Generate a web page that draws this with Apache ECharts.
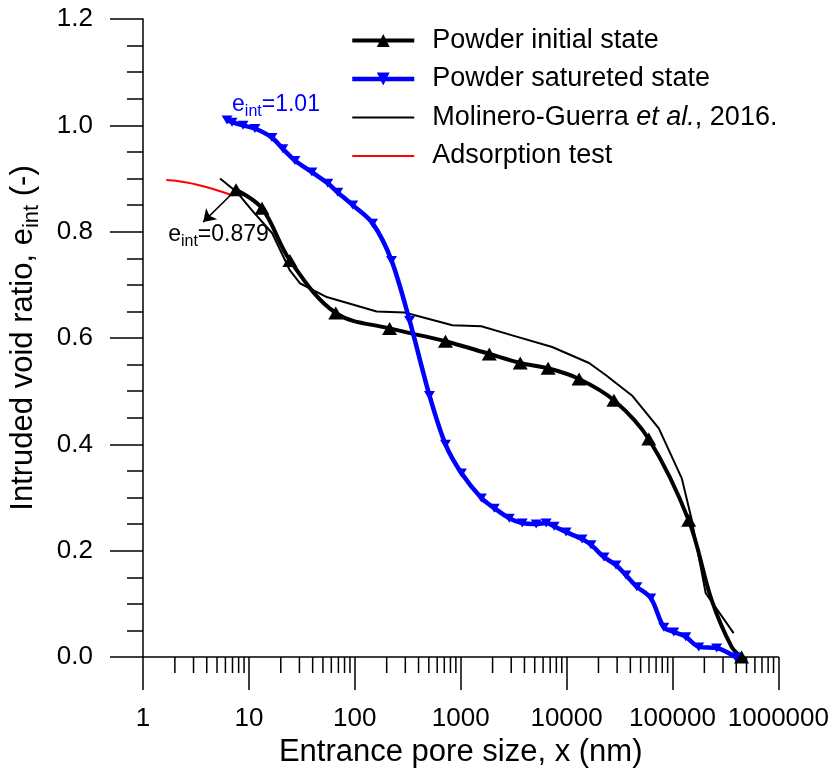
<!DOCTYPE html>
<html>
<head>
<meta charset="utf-8">
<script src="https://cdn.jsdelivr.net/npm/echarts@6/dist/echarts.min.js"></script>
<style>
  html, body { margin: 0; padding: 0; background: #fff; }
  #chart { width: 832px; height: 773px; }
</style>
</head>
<body>
<div id="chart"></div>
<script>
const FONT = '"Liberation Sans", Arial, Helvetica, sans-serif';

// Entrance pore size (nm) / intruded void ratio, powder in initial state (marked points)
const initialSize = [7.56, 13.3, 24.4, 66.1, 213, 718, 1862, 3648, 6693, 13120, 27990, 59700, 142300, 449000];
const initialVoid = [0.879, 0.844, 0.746, 0.647, 0.618, 0.594, 0.570, 0.553, 0.543, 0.523, 0.483, 0.410, 0.257, 0.0];
// unmarked intermediate points of the same curve
const initialExtraSize = [234400, 362000];
const initialExtraVoid = [0.107, 0.019];

// Powder in saturated state
const saturatedSize = [6.22, 6.93, 8.80, 11.4, 16.5, 20.9, 27.2, 39.3, 55.6, 69.0, 95.5, 147, 222, 329, 507, 718,
  1016, 1567, 2076, 2875, 3811, 5164, 6412, 7622, 9886, 13990, 16990, 22530, 29240, 36310, 46090, 62420,
  82790, 102800, 133400, 176900, 261300, 394500];
const saturatedVoid = [1.01, 1.006, 1.000, 0.994, 0.977, 0.956, 0.934, 0.912, 0.891, 0.874, 0.850, 0.816, 0.746, 0.633, 0.492, 0.400,
  0.346, 0.299, 0.280, 0.261, 0.252, 0.250, 0.252, 0.246, 0.235, 0.222, 0.211, 0.188, 0.173, 0.154, 0.132, 0.111,
  0.056, 0.047, 0.038, 0.019, 0.017, 0.0];

// Molinero-Guerra et al., 2016
const molineroSize = [5.34, 7.73, 10.7, 16.6, 24.4, 30.3, 54.3, 161, 295, 836, 1567, 3069, 7311, 16290, 23560, 41400, 74300,
  122400, 152000, 206000, 378000];
const molineroVoid = [0.900, 0.874, 0.840, 0.797, 0.727, 0.703, 0.677, 0.650, 0.648, 0.624, 0.622, 0.605, 0.583, 0.553, 0.530, 0.492, 0.430,
  0.336, 0.258, 0.120, 0.045];

// Adsorption test
const adsorptionSize = [1.66, 2.5, 3.47, 5.0, 7.1];
const adsorptionVoid = [0.897, 0.893, 0.887, 0.878, 0.868];

// Axis ticks
const xDecades = [1, 10, 100, 1000, 10000, 100000, 1000000];
const xMinorSteps = [2, 3, 4, 5, 6, 7, 8, 9];
const yTicks = [0, 0.2, 0.4, 0.6, 0.8, 1.0, 1.2];

// Arrow end for the initial-state annotation
const arrowEnd = [3.7, 0.818];

const pairs = (xs, ys) => xs.map((x, i) => [x, ys[i]]);
const minorTickValues = xDecades.slice(0, -1).flatMap(d => xMinorSteps.map(s => s * d));

// initial-state curve: marked points plus unmarked ones, sorted by pore size
const initialData = pairs(initialSize, initialVoid)
  .concat(pairs(initialExtraSize, initialExtraVoid).map(p => ({ value: p, symbol: 'none' })))
  .sort((a, b) => (a.value || a)[0] - (b.value || b)[0]);

const chart = echarts.init(document.getElementById('chart'), null, { renderer: 'canvas' });

const subLabel = color => ({
  b: { fontSize: 23, fontFamily: FONT, color },
  s: { fontSize: 16, fontFamily: FONT, color, padding: [13, 0, 0, 0] }
});

const option = {
  animation: false,
  backgroundColor: '#fff',
  textStyle: { fontFamily: FONT, color: '#000' },
  grid: { left: 143, right: 52, top: 19, bottom: 116, containLabel: false },
  legend: {
    orient: 'vertical',
    left: 350,
    top: 27,
    padding: 0,
    itemWidth: 62,
    itemHeight: 16,
    itemGap: 11.5,
    textStyle: {
      fontSize: 27, fontFamily: FONT, color: '#000', padding: [0, 0, 0, 13],
      rich: { i: { fontSize: 27, fontFamily: FONT, fontStyle: 'italic' } }
    },
    formatter: name => name.startsWith('Molinero') ? 'Molinero-Guerra {i|et al.}, 2016.' : name,
    data: [
      { name: 'Powder initial state', lineStyle: { width: 4 } },
      { name: 'Powder satureted state', lineStyle: { width: 4.5 } },
      { name: 'Molinero-Guerra et al., 2016.', icon: 'path://M0,0H62V2H0Z' },
      { name: 'Adsorption test', icon: 'path://M0,0H62V2H0Z' }
    ]
  },
  xAxis: {
    type: 'log',
    logBase: 10,
    min: xDecades[0],
    max: xDecades[xDecades.length - 1],
    name: 'Entrance pore size, x (nm)',
    nameLocation: 'middle',
    nameGap: 80,
    nameTextStyle: { fontSize: 31, fontFamily: FONT, color: '#000' },
    axisLine: { lineStyle: { color: '#000', width: 1.5 } },
    axisTick: { show: true, inside: false, length: 33, lineStyle: { color: '#000', width: 1.5 } },
    minorTick: { show: false },
    splitLine: { show: false },
    axisLabel: {
      margin: 49, fontSize: 26, fontFamily: FONT, color: '#000',
      formatter: v => String(Math.round(v))
    }
  },
  yAxis: {
    type: 'value',
    min: yTicks[0],
    max: yTicks[yTicks.length - 1],
    interval: 0.2,
    name: 'Intruded void ratio, e{s|int} (-)',
    nameLocation: 'middle',
    nameGap: 100,
    nameTextStyle: {
      fontSize: 31, fontFamily: FONT, color: '#000',
      rich: { s: { fontSize: 22, fontFamily: FONT, padding: [17, 0, 0, 0] } }
    },
    axisLine: { show: true, lineStyle: { color: '#000', width: 1.5 } },
    axisTick: { show: true, inside: false, length: 33, lineStyle: { color: '#000', width: 1.5 } },
    minorTick: { show: true, splitNumber: 4, length: 16, lineStyle: { color: '#000', width: 1.5 } },
    splitLine: { show: false },
    axisLabel: {
      margin: 50, fontSize: 26, fontFamily: FONT, color: '#000',
      formatter: v => v.toFixed(1)
    }
  },
  series: [
    {
      name: 'Molinero-Guerra et al., 2016.',
      type: 'line',
      data: pairs(molineroSize, molineroVoid),
      symbol: 'none',
      showSymbol: false,
      smooth: false,
      lineStyle: { color: '#000', width: 2 },
      itemStyle: { color: '#000' },
      z: 2
    },
    {
      name: 'Adsorption test',
      type: 'line',
      data: pairs(adsorptionSize, adsorptionVoid),
      symbol: 'none',
      showSymbol: false,
      smooth: true,
      lineStyle: { color: '#ff0000', width: 2 },
      itemStyle: { color: '#ff0000' },
      z: 2
    },
    {
      name: 'Powder initial state',
      type: 'line',
      data: initialData,
      smooth: 0.35,
      symbol: 'triangle',
      symbolSize: [15, 13],
      lineStyle: { color: '#000', width: 4 },
      itemStyle: { color: '#000' },
      z: 3,
      markLine: {
        silent: true,
        symbol: ['none', 'arrow'],
        symbolSize: 12,
        label: { show: false },
        lineStyle: { color: '#000', width: 1.5, type: 'solid' },
        data: [[
          { coord: [initialSize[0], initialVoid[0]] },
          { coord: arrowEnd }
        ]]
      },
      markPoint: {
        silent: true,
        symbol: 'circle',
        symbolSize: 0,
        itemStyle: { color: 'rgba(0,0,0,0)' },
        label: {
          show: true,
          position: [-35, 13],
          align: 'left',
          verticalAlign: 'middle',
          formatter: '{b|e}{s|int}{b|=' + initialVoid[0].toFixed(3) + '}',
          rich: subLabel('#000')
        },
        data: [{ coord: arrowEnd }]
      }
    },
    {
      name: 'Powder satureted state',
      type: 'line',
      data: pairs(saturatedSize, saturatedVoid),
      smooth: 0.3,
      symbol: 'triangle',
      symbolRotate: 180,
      symbolSize: [11, 9],
      lineStyle: { color: '#0000ff', width: 4.5 },
      itemStyle: { color: '#0000ff' },
      z: 4,
      markPoint: {
        silent: true,
        symbol: 'circle',
        symbolSize: 0,
        itemStyle: { color: 'rgba(0,0,0,0)' },
        label: {
          show: true,
          position: [5, -15],
          align: 'left',
          verticalAlign: 'middle',
          formatter: '{b|e}{s|int}{b|=' + saturatedVoid[0].toFixed(2) + '}',
          rich: subLabel('#0000ff')
        },
        data: [{ coord: [saturatedSize[0], saturatedVoid[0]] }]
      }
    },
    {
      // minor ticks of the logarithmic pore-size axis (2..9 in each decade)
      name: 'minorTicks',
      type: 'custom',
      silent: true,
      clip: false,
      data: minorTickValues.map(v => [v, yTicks[0]]),
      renderItem: (params, api) => {
        const p = api.coord([api.value(0), api.value(1)]);
        return {
          type: 'line',
          shape: { x1: p[0], y1: p[1], x2: p[0], y2: p[1] + 16 },
          style: { stroke: '#000', lineWidth: 1.5 }
        };
      },
      z: 1
    }
  ]
};

chart.setOption(option);
</script>
</body>
</html>
